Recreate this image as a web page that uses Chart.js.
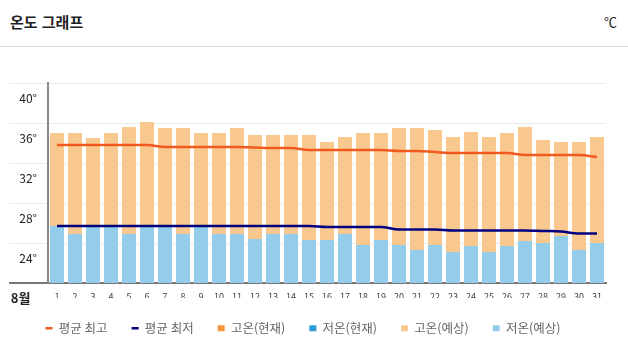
<!DOCTYPE html>
<html lang="ko">
<head>
<meta charset="utf-8">
<title>온도 그래프</title>
<script src="https://cdn.jsdelivr.net/npm/chart.js@4.4.1/dist/chart.umd.min.js"></script>
<style>
  body { margin: 0; background: #fff; font-family: 'Noto Sans CJK KR', sans-serif; }
  .head { position: relative; height: 46px; border-bottom: 1px solid #ddd; width: 628px; }
  .head .title { position: absolute; left: 10px; top: 11px; font-size: 15px; font-weight: bold; color: #222; }
  .head .unit { position: absolute; right: 11px; top: 12px; font-size: 13px; color: #222; }
  .wrap { position: relative; width: 628px; height: 307px; }
</style>
</head>
<body>
<div class="head"><span class="title">온도 그래프</span><span class="unit">℃</span></div>
<div class="wrap"><canvas id="chart1"></canvas></div>
<script>
// 8월 일자
const days = ['1','2','3','4','5','6','7','8','9','10','11','12','13','14','15','16',
  '17','18','19','20','21','22','23','24','25','26','27','28','29','30','31'];

// 평년 평균 (선)
const avgHigh = [33.8, 33.8, 33.8, 33.8, 33.8, 33.8, 33.6, 33.6, 33.6, 33.6, 33.6, 33.55, 33.5, 33.5, 33.3, 33.3,
  33.3, 33.3, 33.3, 33.2, 33.2, 33.1, 33.0, 33.0, 33.0, 33.0, 32.8, 32.8, 32.8, 32.8, 32.6];
const avgLow = [25.7, 25.7, 25.7, 25.7, 25.7, 25.7, 25.7, 25.7, 25.7, 25.7, 25.7, 25.7, 25.7, 25.7, 25.7, 25.6,
  25.6, 25.6, 25.6, 25.35, 25.35, 25.35, 25.25, 25.25, 25.25, 25.25, 25.25, 25.2, 25.15, 24.95, 24.95];

// 현재 (관측) - 값 없음
const highNow = [];
const lowNow = [];

// 예상
const highFcst = [35.0, 35.0, 34.5, 35.0, 35.6, 36.1, 35.5, 35.5, 35.0, 35.0, 35.5, 34.8, 34.8, 34.8, 34.8, 34.1,
  34.6, 35.0, 35.0, 35.5, 35.5, 35.3, 34.6, 35.1, 34.6, 35.0, 35.6, 34.3, 34.1, 34.1, 34.6];
const lowFcst = [25.7, 24.9, 25.7, 25.7, 24.9, 25.7, 25.7, 24.9, 25.7, 24.9, 24.9, 24.4, 24.9, 24.9, 24.3, 24.3,
  24.9, 23.8, 24.3, 23.8, 23.3, 23.8, 23.1, 23.7, 23.1, 23.7, 24.2, 24.0, 24.7, 23.3, 24.0];

const monthLabel = '8월';
const yTicks = [20, 24, 28, 32, 36, 40];

Chart.defaults.font.family = "'Noto Sans CJK KR', sans-serif";

const ctx = document.getElementById('chart1');

const barOpts = {
  type: 'bar',
  grouped: false,
  barPercentage: 0.78,
  categoryPercentage: 1,
  borderWidth: 0,
  pointStyle: 'rect',
};

const chart1 = new Chart(ctx, {
  data: {
    labels: days,
    datasets: [
      { type: 'line', label: '평균 최고', data: avgHigh, borderColor: '#f05a1e', backgroundColor: '#f05a1e',
        borderWidth: 2.5, pointRadius: 0, cubicInterpolationMode: 'monotone', pointStyle: 'line', order: 0 },
      { type: 'line', label: '평균 최저', data: avgLow, borderColor: '#000080', backgroundColor: '#000080',
        borderWidth: 2.5, pointRadius: 0, cubicInterpolationMode: 'monotone', pointStyle: 'line', order: 0 },
      Object.assign({ label: '고온(현재)', data: highNow, backgroundColor: '#f7953d', order: 4 }, barOpts),
      Object.assign({ label: '저온(현재)', data: lowNow, backgroundColor: '#2b9cd8', order: 3 }, barOpts),
      Object.assign({ label: '고온(예상)', data: highFcst, backgroundColor: '#f9c88f', order: 2 }, barOpts),
      Object.assign({ label: '저온(예상)', data: lowFcst, backgroundColor: '#94cdea', order: 1 }, barOpts),
    ]
  },
  options: {
    responsive: true,
    maintainAspectRatio: false,
    animation: false,
    layout: { padding: { top: 36, right: 22, bottom: 9.5, left: 0 } },
    plugins: {
      tooltip: { enabled: false },
      legend: {
        position: 'bottom',
        labels: {
          usePointStyle: true,
          pointStyleWidth: 7,
          boxHeight: 6,
          padding: 24,
          color: '#666',
          font: { size: 12.5 },
          sort: (a, b) => a.datasetIndex - b.datasetIndex,
        }
      }
    },
    scales: {
      x: {
        grid: { display: false, drawTicks: false },
        border: { color: '#777', width: 2 },
        ticks: { color: '#444', font: { size: 9 }, padding: 8, maxRotation: 0, autoSkip: false },
        afterFit: (scale) => { scale.height = 15; }
      },
      y: {
        min: yTicks[0],
        max: yTicks[yTicks.length - 1],
        afterBuildTicks: (scale) => { scale.ticks = yTicks.map(v => ({ value: v })); },
        grid: {
          tickLength: 39,
          color: (c) => c.tick && c.tick.value === yTicks[0] ? '#777' : '#ebebeb',
          lineWidth: (c) => c.tick && c.tick.value === yTicks[0] ? 2 : 1,
        },
        border: { color: '#888', width: 2 },
        ticks: {
          padding: -28,
          labelOffset: 15,
          color: '#222',
          font: (c) => c.tick && c.tick.value === yTicks[0] ? { size: 13, weight: 'bold' } : { size: 12 },
          callback: (v) => v === yTicks[0] ? monthLabel + '\u2002' : v + '°'
        },
        afterFit: (scale) => { scale.width = 48; }
      }
    }
  }
});
</script>
</body>
</html>
